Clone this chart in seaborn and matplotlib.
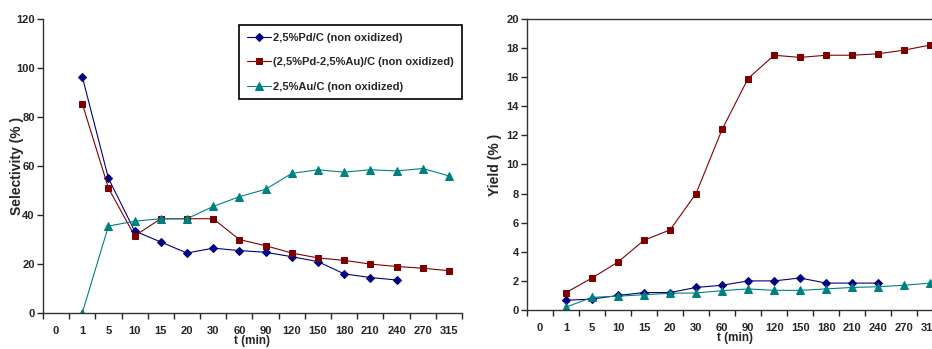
import pandas as pd
import numpy as np
import matplotlib
matplotlib.use("Agg")
import matplotlib.pyplot as plt
import seaborn as sns
from matplotlib.ticker import FixedLocator

times = ["0", "1", "5", "10", "15", "20", "30", "60", "90", "120", "150", "180", "210", "240", "270", "315"]
catalysts = ["2,5%Pd/C (non oxidized)", "(2,5%Pd-2,5%Au)/C (non oxidized)", "2,5%Au/C (non oxidized)"]

# selectivity (%), starting at t = 1 min
sel_pd = [96.5, 55, 33.5, 29, 24.5, 26.5, 25.5, 24.8, 23, 21, 16, 14.5, 13.5, np.nan, np.nan]
sel_pdau = [85.5, 51, 31.5, 38.5, 38.5, 38.5, 30, 27.5, 24.5, 22.5, 21.5, 20, 19, 18.3, 17.3]
sel_au = [0, 35.5, 37.5, 38.5, 38.5, 43.5, 47.5, 50.5, 57, 58.5, 57.5, 58.5, 58, 59, 56]

# yield (%)
yld_pd = [0.67, 0.75, 1.0, 1.2, 1.2, 1.55, 1.7, 2.0, 2.0, 2.2, 1.85, 1.85, 1.85, np.nan, np.nan]
yld_pdau = [1.2, 2.2, 3.3, 4.8, 5.5, 8.0, 12.4, 15.9, 17.5, 17.35, 17.5, 17.5, 17.6, 17.85, 18.2]
yld_au = [0.2, 0.87, 0.95, 1.05, 1.15, 1.17, 1.33, 1.45, 1.35, 1.35, 1.45, 1.55, 1.6, 1.7, 1.85]

colors = ["#000080", "#800000", "#008080"]
markers = ["D", "s", "^"]
msizes = [4.5, 5, 5.5]


def long_df(series):
    rows = []
    for cat, vals in zip(catalysts, series):
        for t, v in zip(times[1:], vals):
            rows.append({"t": t, "pos": times.index(t), "catalyst": cat, "value": v})
    return pd.DataFrame(rows).dropna()


sns.set_style("ticks")
plt.rcParams["font.family"] = ["Liberation Sans", "DejaVu Sans"]
plt.rcParams["font.weight"] = "bold"

fig = plt.figure(figsize=(9.32, 3.49), dpi=100)
ax1 = fig.add_axes([0.0461, 0.103, 0.4496, 0.8424])
ax2 = fig.add_axes([0.5655, 0.1117, 0.4464, 0.8343])

panels = [
    (ax1, long_df([sel_pd, sel_pdau, sel_au]), "Selectivity (% )", 120, 20, -0.045),
    (ax2, long_df([yld_pd, yld_pdau, yld_au]), "Yield (% )", 20, 2, -0.06),
]

for ax, df, ylab, ymax, step, lx in panels:
    for cat, col, mk, ms in zip(catalysts, colors, markers, msizes):
        sub = df[df["catalyst"] == cat]
        sns.lineplot(data=sub, x="pos", y="value", ax=ax, color=col, lw=0.8,
                     marker=mk, markersize=ms, markeredgecolor=col,
                     estimator=None, sort=False, label=cat)
    ax.set_xlim(-0.5, len(times) - 0.5)
    ax.set_ylim(0, ymax)
    ax.set_yticks(np.arange(0, ymax + step / 2, step))
    ax.set_xticks(range(len(times)))
    ax.set_xticklabels(times)
    ax.xaxis.set_minor_locator(FixedLocator(np.arange(-0.5, len(times), 1)))
    ax.tick_params(axis="x", which="major", length=0, pad=9.5, labelsize=8)
    ax.tick_params(axis="x", which="minor", length=4, width=1, direction="out")
    ax.tick_params(axis="y", length=4, width=1, labelsize=8, pad=2)
    for lbl in ax.get_xticklabels() + ax.get_yticklabels():
        lbl.set_fontweight("bold")
    ax.set_xlabel("t (min)", fontsize=8.5, fontweight="bold", labelpad=-1)
    ax.set_ylabel(ylab, fontsize=10, fontweight="bold")
    ax.yaxis.set_label_coords(lx, 0.5)
    for s in ax.spines.values():
        s.set_linewidth(1)
        s.set_color("#333333")
    ax.spines["right"].set_visible(False)

ax1.spines["top"].set_visible(False)
ax2.get_legend().remove()

leg = ax1.legend(loc="upper right", bbox_to_anchor=(1.0, 0.98), borderaxespad=0,
                 fancybox=False, edgecolor="black", framealpha=1,
                 prop={"size": 8, "weight": "bold"}, handlelength=2.2,
                 labelspacing=1.3, borderpad=0.7, handletextpad=0.2)
leg.get_frame().set_linewidth(1.2)

fig.savefig("out.png", dpi=100)
